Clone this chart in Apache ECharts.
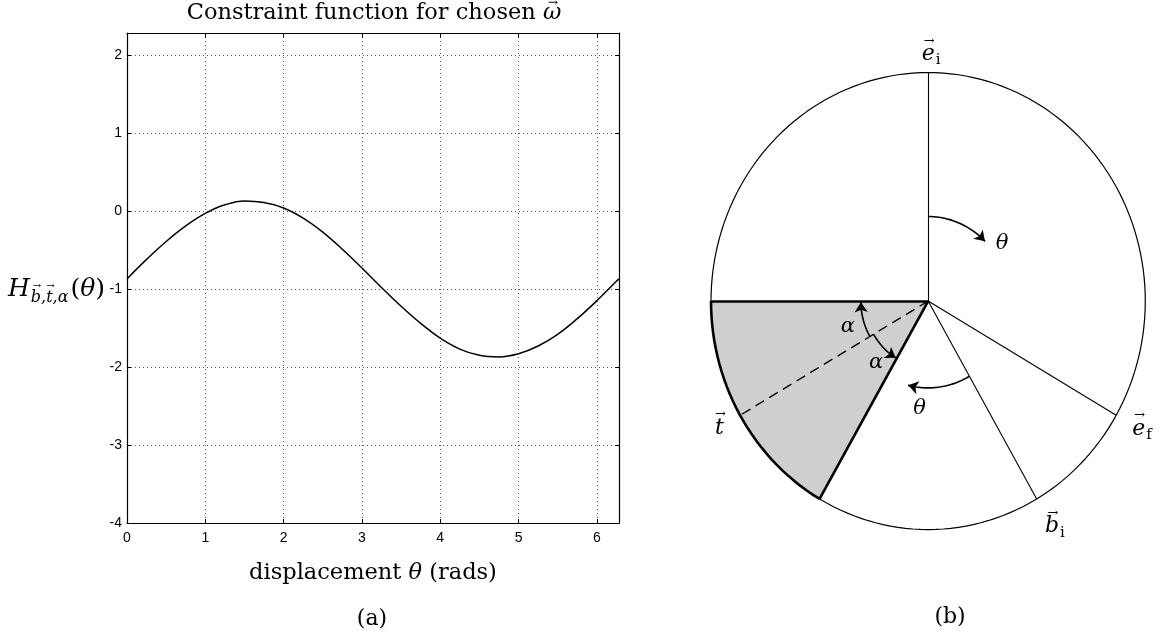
<!DOCTYPE html>
<html>
<head>
<meta charset="utf-8">
<script src="https://cdn.jsdelivr.net/npm/echarts@6/dist/echarts.min.js"></script>
<style>
  html, body { margin: 0; padding: 0; background: #ffffff; }
  #chart { width: 1167px; height: 638px; }
</style>
</head>
<body>
<div id="chart"></div>
<script>
// ---- (a) constraint function H(theta) over one revolution ----
const thetaRad = [0, 0.25, 0.5, 0.75, 1.0, 1.25, 1.5, 1.75, 2.0, 2.25, 2.5, 2.75, 3.0,
  3.25, 3.5, 3.75, 4.0, 4.25, 4.5, 4.75, 5.0, 5.25, 5.5, 5.75, 6.0, 6.25, 6.2832];
const hValues = [-0.87, -0.62, -0.39, -0.19, -0.03, 0.08, 0.13, 0.11, 0.04, -0.09, -0.27, -0.49, -0.73,
  -0.98, -1.22, -1.44, -1.63, -1.77, -1.85, -1.87, -1.83, -1.73, -1.58, -1.38, -1.15, -0.90, -0.87];
const xTickLabels = ['0', '1', '2', '3', '4', '5', '6'];
const yTickLabels = ['-4', '-3', '-2', '-1', '0', '1', '2'];

// ---- (b) unit-circle diagram, angles in degrees (counter-clockwise from +x) ----
const thinRayAngles = [90, -30, -60];        // e_i, e_f, b_i
const boldRayAngles = [180, 240];            // edges of the shaded wedge
const dashedRayAngles = [210];               // t
const shadedSector = [180, 240];
const thetaArcs = [[90, 45, 0.37], [-60, -104, 0.38]];   // [from, to, radius]
const alphaArcs = [[210, 181, 0.31], [210, 239, 0.29]];  // [from, to, radius]
const vectorLetters = ['e', 'e', 'b', 't'];
const vectorSubscripts = ['i', 'f', 'i', ''];
const vectorLabelAngles = [90, -30, -60, 210];

const D = Math.PI / 180;
const pt = (deg, r) => [r * Math.cos(deg * D), r * Math.sin(deg * D)];
const arcPts = (a0, a1, r) => {
  const n = Math.max(2, Math.ceil(Math.abs(a1 - a0) / 2));
  const out = [];
  for (let i = 0; i <= n; i++) out.push(pt(a0 + (a1 - a0) * i / n, r));
  return out;
};

const serif = '"DejaVu Serif"';
const sans = 'Liberation Sans';

// text width helper for placing vector arrows over letters
const measureCtx = document.createElement('canvas').getContext('2d');
const textWidth = (txt, font) => { measureCtx.font = font; return measureCtx.measureText(txt).width; };

const curveData = thetaRad.map((t, i) => [t, hValues[i]]);
const circleData = arcPts(0, 360, 1);
const allArcs = thetaArcs.concat(alphaArcs);

const boxAxisCommon = {
  axisLine: { show: true, onZero: false, lineStyle: { color: '#000', width: 1.2 } },
  axisTick: { show: true, inside: true, length: 4, lineStyle: { color: '#000' } }
};
const gridDots = { show: true, lineStyle: { color: '#555', width: 1, type: [1, 3] } };

const option = {
  backgroundColor: '#ffffff',
  animation: false,
  grid: [
    { left: 127, top: 33, width: 492, height: 490 },
    { left: 689.3, top: 49.7, width: 487.3, height: 502.7 }
  ],
  xAxis: [
    Object.assign({
      type: 'value', gridIndex: 0, position: 'bottom', min: 0, max: 2 * Math.PI, interval: 1,
      axisLabel: {
        color: '#000', fontFamily: sans, fontSize: 14, margin: 8, showMaxLabel: false,
        formatter: v => xTickLabels[Math.round(v)] ?? ''
      },
      splitLine: gridDots
    }, boxAxisCommon),
    Object.assign({
      type: 'value', gridIndex: 0, position: 'top', min: 0, max: 2 * Math.PI, interval: 1,
      axisLabel: { show: false }, splitLine: { show: false }
    }, boxAxisCommon),
    { type: 'value', gridIndex: 1, min: -1.1, max: 1.1, show: false }
  ],
  yAxis: [
    Object.assign({
      type: 'value', gridIndex: 0, position: 'left', min: -4, max: -4 + 2 * Math.PI, interval: 1,
      axisLabel: {
        color: '#000', fontFamily: sans, fontSize: 14, margin: 5, showMaxLabel: false,
        formatter: v => yTickLabels[Math.round(v) + 4] ?? ''
      },
      splitLine: gridDots
    }, boxAxisCommon),
    Object.assign({
      type: 'value', gridIndex: 0, position: 'right', min: -4, max: -4 + 2 * Math.PI, interval: 1,
      axisLabel: { show: false }, splitLine: { show: false }
    }, boxAxisCommon),
    { type: 'value', gridIndex: 1, min: -1.1, max: 1.1, show: false }
  ],
  series: [
    {
      type: 'line', xAxisIndex: 0, yAxisIndex: 0, data: curveData, smooth: 0.4,
      showSymbol: false, lineStyle: { color: '#000', width: 1.5 }, z: 5
    },
    // shaded wedge between the two bold rays
    {
      type: 'custom', xAxisIndex: 2, yAxisIndex: 2, data: [shadedSector], z: 1,
      renderItem: (params, api) => {
        const pts = [api.coord([0, 0])];
        arcPts(api.value(0), api.value(1), 1).forEach(p => pts.push(api.coord(p)));
        return { type: 'polygon', shape: { points: pts }, style: { fill: '#cfcfcf' } };
      }
    },
    // circle outline
    {
      type: 'line', xAxisIndex: 2, yAxisIndex: 2, data: circleData, showSymbol: false,
      lineStyle: { color: '#000', width: 1.2 }, z: 3
    },
    // bold rim of the wedge
    {
      type: 'line', xAxisIndex: 2, yAxisIndex: 2, data: arcPts(shadedSector[0], shadedSector[1], 1),
      showSymbol: false, lineStyle: { color: '#000', width: 2.6 }, z: 4
    },
    {
      type: 'lines', coordinateSystem: 'cartesian2d', xAxisIndex: 2, yAxisIndex: 2, z: 4,
      data: thinRayAngles.map(a => ({ coords: [[0, 0], pt(a, 1)] })),
      lineStyle: { color: '#000', width: 1.1, opacity: 1 }
    },
    {
      type: 'lines', coordinateSystem: 'cartesian2d', xAxisIndex: 2, yAxisIndex: 2, z: 4,
      data: boldRayAngles.map(a => ({ coords: [[0, 0], pt(a, 1)] })),
      lineStyle: { color: '#000', width: 2.6, opacity: 1 }
    },
    {
      type: 'lines', coordinateSystem: 'cartesian2d', xAxisIndex: 2, yAxisIndex: 2, z: 4,
      data: dashedRayAngles.map(a => ({ coords: [[0, 0], pt(a, 1)] })),
      lineStyle: { color: '#000', width: 1.4, type: [10, 6], opacity: 1 }
    },
    // arcs for theta and alpha
    {
      type: 'lines', coordinateSystem: 'cartesian2d', xAxisIndex: 2, yAxisIndex: 2, z: 5,
      polyline: true,
      data: allArcs.map(a => ({ coords: arcPts(a[0], a[1], a[2]) })),
      lineStyle: { color: '#000', width: 1.6, opacity: 1 }
    },
    // arrowheads at the end of each arc
    {
      type: 'lines', coordinateSystem: 'cartesian2d', xAxisIndex: 2, yAxisIndex: 2, z: 5,
      symbol: ['none', 'arrow'], symbolSize: 10,
      data: allArcs.map(a => {
        const p = arcPts(a[0], a[1], a[2]);
        return { coords: [p[p.length - 2], p[p.length - 1]] };
      }),
      lineStyle: { color: '#000', width: 1.6, opacity: 1 }
    }
  ]
};

const chart = echarts.init(document.getElementById('chart'), null, { renderer: 'canvas' });
chart.setOption(option);

// ---- text: titles, axis names and diagram labels ----
const graphics = [];
const addText = (x, y, text, font, align) => graphics.push({
  type: 'text', x, y, z: 10,
  style: { text, font, fill: '#000', align: align || 'center', verticalAlign: 'middle' }
});
const addArrow = (cx, y, size) => addText(cx, y, '→', size + 'px ' + serif, 'center');
// a run of differently styled pieces, centred on cx; returns the x start of each piece
const addRun = (cx, y, pieces) => {
  const widths = pieces.map(p => textWidth(p[0], p[1]));
  let x = cx - widths.reduce((a, b) => a + b, 0) / 2;
  const starts = [];
  pieces.forEach((p, i) => { starts.push(x); addText(x, y, p[0], p[1], 'left'); x += widths[i]; });
  return starts;
};

// title with vector arrow over omega
(function () {
  const f = '22.5px ' + serif;
  const fi = 'italic 22.5px ' + serif;
  const s = addRun(374, 13, [['Constraint function for chosen ', f], ['ω', fi]]);
  addArrow(s[1] + textWidth('ω', fi) / 2 + 1, 3, 12);
})();

addRun(373, 573, [['displacement ', '22.5px ' + serif], ['θ', 'italic 22.5px ' + serif], [' (rads)', '22.5px ' + serif]]);
addText(372, 619, '(a)', '22px ' + serif);
addText(950, 617, '(b)', '22px ' + serif);

// y axis name: H with subscript b, t, alpha
(function () {
  const fH = 'italic 25px ' + serif, fS = 'italic 16px ' + serif, fN = '25px ' + serif, fT = 'italic 25px ' + serif;
  let x = 8;
  const y = 289;
  addText(x, y, 'H', fH, 'left');
  x += textWidth('H', fH) + 1;
  const sy = y + 9;
  addText(x, sy, 'b,t,α', fS, 'left');
  addArrow(x + textWidth('b', fS) / 2 + 1, sy - 12, 10);
  addArrow(x + textWidth('b,', fS) + textWidth('t', fS) / 2 + 1, sy - 12, 10);
  x += textWidth('b,t,α', fS) + 2;
  addText(x, y, '(', fN, 'left'); x += textWidth('(', fN);
  addText(x, y, 'θ', fT, 'left'); x += textWidth('θ', fT);
  addText(x, y, ')', fN, 'left');
})();

// diagram labels placed through the diagram's own axes
const toPx = p => chart.convertToPixel({ gridIndex: 1 }, p);
const labelRadii = [1.08, 1.12, 1.14, 1.11];
vectorLetters.forEach((letter, i) => {
  const [cx, cy] = toPx(pt(vectorLabelAngles[i], labelRadii[i]));
  const fL = 'italic 22px ' + serif, fS = '15px ' + serif;
  const lw = textWidth(letter, fL);
  addText(cx, cy, letter, fL, 'center');
  addArrow(cx + 1, cy - 13, 13);
  if (vectorSubscripts[i]) addText(cx + lw / 2 + 1, cy + 6, vectorSubscripts[i], fS, 'left');
});
[[0.34, 0.25, 'θ'], [-0.04, -0.47, 'θ'], [-0.37, -0.11, 'α'], [-0.24, -0.27, 'α']].forEach(l => {
  const [px, py] = toPx([l[0], l[1]]);
  addText(px, py, l[2], 'italic 21px ' + serif, 'center');
});

chart.setOption({ graphic: graphics });
</script>
</body>
</html>
